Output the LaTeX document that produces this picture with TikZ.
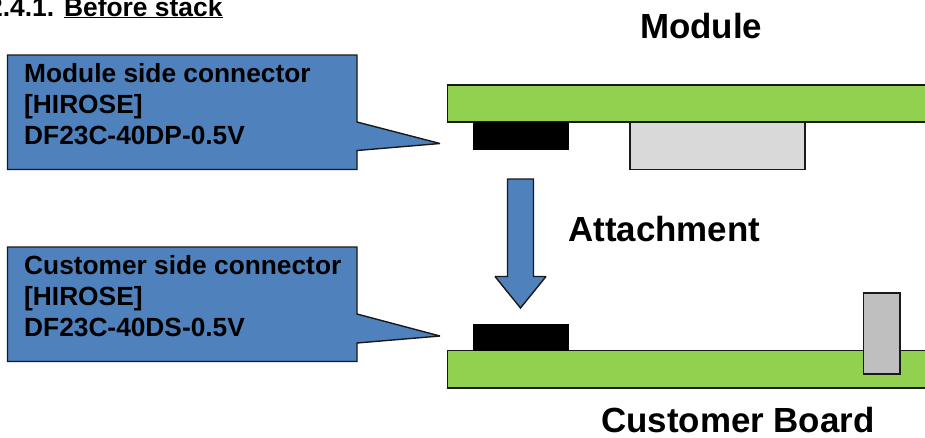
\documentclass[tikz,border=0pt]{standalone}
\usepackage{fontspec}
\setmainfont{Liberation Sans}
\tikzset{
  outl/.style={draw=black!90,line width=1.4pt,line join=miter,miter limit=2},
  callout/.style={outl,fill=calloutblue},
  board/.style={outl,fill=boardgreen},
  conn/.style={fill=black,draw=none},
  lbl/.style={font=\bfseries\fontsize{26.4}{31}\selectfont,inner sep=0pt,anchor=base west},
  calltext/.style={font=\bfseries\fontsize{26.3}{31}\selectfont,inner sep=0pt,anchor=north west,align=left},
  title/.style={font=\bfseries\fontsize{34.9}{40}\selectfont,inner sep=0pt,anchor=base west}
}
\definecolor{calloutblue}{HTML}{4F81BD}
\definecolor{boardgreen}{HTML}{92D050}
\definecolor{partgrey}{HTML}{D9D9D9}
\definecolor{pingrey}{HTML}{BFBFBF}
\begin{document}
\begin{tikzpicture}[x=1pt,y=-1pt]
\useasboundingbox (0,0) rectangle (925,437);
\clip (0,0) rectangle (925,437);
% heading
\node[lbl] (head) at (-12,16) {2.4.1. \underline{Before stack}};
% callouts
\draw[callout] (7.5,55) -- (357,55) -- (357,122) -- (440,143.5) -- (357,150.5) -- (357,169.5) -- (7.5,169.5) -- cycle;
\draw[callout] (7.5,247) -- (357,247) -- (357,314) -- (440,336) -- (357,343) -- (357,361.5) -- (7.5,361.5) -- cycle;
\node[calltext] (t1) at (24,63) {Module side connector\\{}[HIROSE]\\DF23C-40DP-0.5V};
\node[calltext] (t2) at (24,255) {Customer side connector\\{}[HIROSE]\\DF23C-40DS-0.5V};
% module
\draw[board] (447.5,85) rectangle (935,122);
\fill[conn] (473,122) rectangle (569,150);
\draw[outl,fill=partgrey] (630,122) rectangle (805,169.5);
% arrow
\draw[callout] (507.5,179) -- (533.5,179) -- (533.5,276.5) -- (546,276.5) -- (520.5,308) -- (495,276.5) -- (507.5,276.5) -- cycle;
% customer board
\draw[board] (447.5,350.5) rectangle (935,388);
\fill[conn] (473,323.5) rectangle (569,351);
\draw[outl,fill=pingrey] (863.5,293) rectangle (900,374);
% titles
\node[title] (tm) at (640,38) {Module};
\node[title] (ta) at (568,241) {Attachment};
\node[title] (tc) at (601,432) {Customer Board};
\end{tikzpicture}
\end{document}
